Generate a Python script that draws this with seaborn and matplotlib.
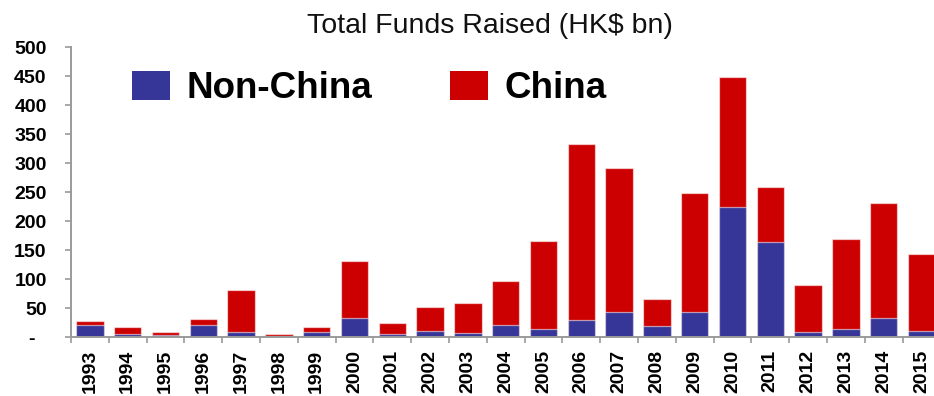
import matplotlib
matplotlib.use("Agg")
import matplotlib.pyplot as plt
import seaborn as sns
import pandas as pd
import numpy as np

years = ["1993", "1994", "1995", "1996", "1997", "1998", "1999", "2000",
         "2001", "2002", "2003", "2004", "2005", "2006", "2007", "2008",
         "2009", "2010", "2011", "2012", "2013", "2014", "2015"]
non_china = [20, 5, 4, 20, 9, 1.5, 9, 32, 6, 11, 7.5, 20, 14, 29, 43, 19,
             43, 224, 164, 8, 14, 33, 11]
china = [8, 12, 4, 11, 72, 3.5, 7.5, 99, 19, 40, 50.5, 77, 151, 304, 248, 47,
         205, 225, 95, 81, 155, 199, 132]
y_ticks = [0, 50, 100, 150, 200, 250, 300, 350, 400, 450, 500]
y_tick_labels = ["-  ", "50", "100", "150", "200", "250", "300", "350",
                 "400", "450", "500"]
title = "Total Funds Raised (HK$ bn)"

BLUE = "#363699"
RED = "#cc0000"
AXIS_GREY = "#9a9a9a"

df = pd.DataFrame({"year": years, "Non-China": non_china, "China": china})
df["total"] = df["Non-China"] + df["China"]

sns.set_style("white")
plt.rcParams["font.family"] = ["Liberation Sans", "DejaVu Sans"]
plt.rcParams["text.color"] = "black"

fig = plt.figure(figsize=(9.34, 3.96), dpi=100)
ax = fig.add_axes([71 / 934, 59 / 396, 869.4 / 934, 289.7 / 396])

edge = (1, 1, 1, 0.55)
sns.barplot(data=df, x="year", y="total", color=RED, width=0.72,
            edgecolor=edge, linewidth=0.9, saturation=1, label="China", ax=ax)
sns.barplot(data=df, x="year", y="Non-China", color=BLUE, width=0.72,
            edgecolor=edge, linewidth=0.9, saturation=1, label="Non-China", ax=ax)

handles, labels = ax.get_legend_handles_labels()
if ax.get_legend() is not None:
    ax.get_legend().remove()

ax.set_xlim(-0.5, len(years) - 0.5)
ax.set_ylim(0, 500)
ax.set_xlabel("")
ax.set_ylabel("")

# y axis
ax.set_yticks(y_ticks)
ax.set_yticklabels(y_tick_labels, fontsize=14, fontweight="bold")
ax.tick_params(axis="y", direction="out", length=4.5, width=1.2,
               color=AXIS_GREY, labelcolor="black", pad=13, left=True)

# x axis: labels centred under bars, tick marks between categories
ax.set_xticks(np.arange(len(years)))
ax.set_xticklabels(years, rotation=90, fontsize=14, fontweight="bold",
                   va="top", ha="center")
ax.tick_params(axis="x", which="major", length=0, pad=9.5, labelcolor="black")
ax.set_xticks(np.arange(len(years) + 1) - 0.5, minor=True)
ax.tick_params(axis="x", which="minor", direction="out", length=4.5,
               width=1.2, color=AXIS_GREY, bottom=True)

for side in ["top", "right"]:
    ax.spines[side].set_visible(False)
for side in ["left", "bottom"]:
    ax.spines[side].set_color(AXIS_GREY)
    ax.spines[side].set_linewidth(1.4)

# legend
order = [labels.index("Non-China"), labels.index("China")]
leg = fig.legend([handles[i] for i in order], [labels[i] for i in order],
                 loc="center left", bbox_to_anchor=(132 / 934, 1 - 88.5 / 396),
                 ncol=2, frameon=False, borderpad=0, borderaxespad=0,
                 prop={"size": 26.5, "weight": "bold"},
                 handlelength=1.03, handleheight=0.84, handletextpad=0.46,
                 columnspacing=2.1, labelcolor="black")
for h in leg.legend_handles:
    h.set_edgecolor("none")

fig.text(490 / 934, 1 - 33 / 396, title, fontsize=20.5, ha="center",
         va="baseline", color="#111111")

fig.savefig("out.png", dpi=100)
